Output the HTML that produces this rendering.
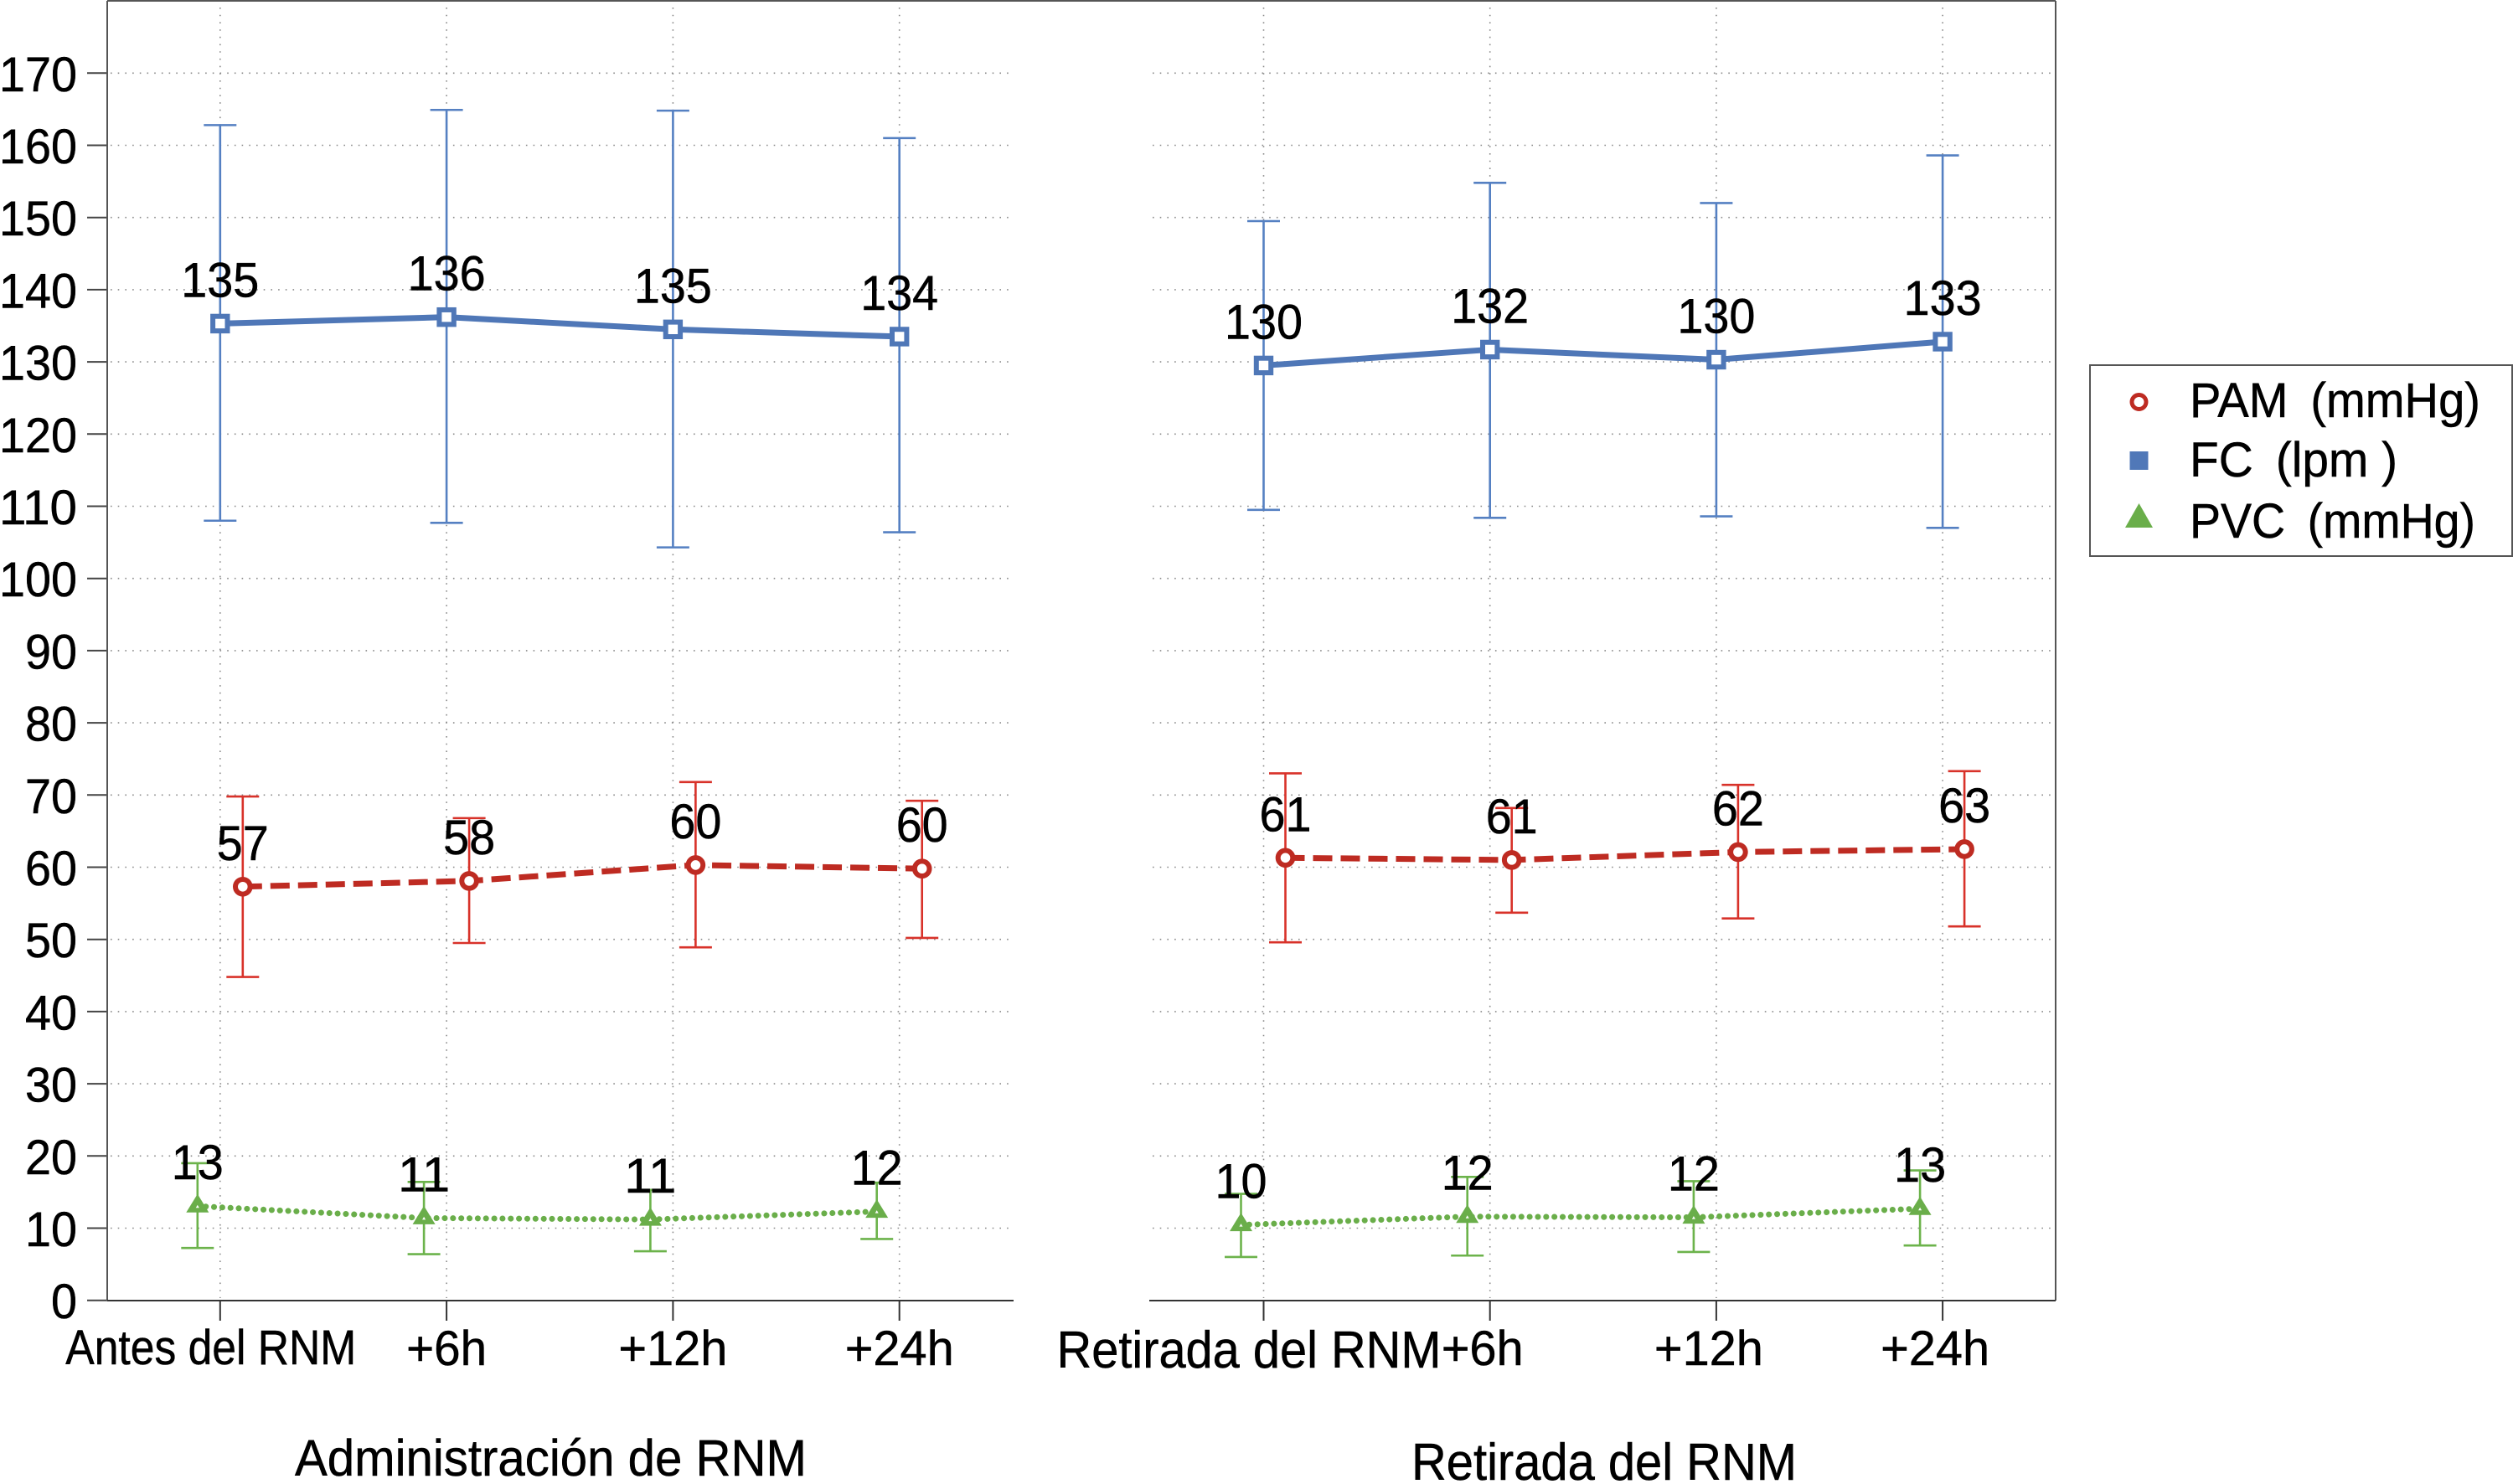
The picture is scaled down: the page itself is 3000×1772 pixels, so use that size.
<!DOCTYPE html>
<html lang="es">
<head>
<meta charset="utf-8">
<title>Evolución de PAM, FC y PVC</title>
<style>
html,body{margin:0;padding:0;background:#fff;width:3000px;height:1772px;overflow:hidden}
svg{display:block;font-family:"Liberation Sans",Arial,sans-serif;fill:#000}
text{stroke:#000;stroke-width:0.5px}
</style>
</head>
<body>
<svg id="chart" xmlns="http://www.w3.org/2000/svg" width="3000" height="1772" viewBox="0 0 3000 1772">
  <rect x="0" y="0" width="3000" height="1772" fill="#fff"/>
  <g id="grid"></g>
  <g id="frame"></g>
  <g id="marks"></g>
  <g id="labels"></g>
  <text x="352" y="1762" font-size="61" textLength="611" lengthAdjust="spacingAndGlyphs">Administración de RNM</text>
  <text x="1685" y="1767" font-size="62" textLength="460" lengthAdjust="spacingAndGlyphs">Retirada del RNM</text>
  <g>
    <rect x="2495" y="436" width="504" height="228" fill="#fff" stroke="#555" stroke-width="2"/>
    <circle cx="2553.5" cy="480" r="8.5" fill="#fff" stroke="#be2b22" stroke-width="5"/>
    <rect x="2542.5" y="539" width="22" height="22" fill="#5078b8"/>
    <polygon points="2553.5,601 2570,630 2537,630" fill="#6aae4a"/>
    <text x="2614" y="498" font-size="58" textLength="347" lengthAdjust="spacingAndGlyphs">PAM&#160;&#8201;(mmHg)</text>
    <text x="2614" y="569" font-size="58" textLength="248" lengthAdjust="spacingAndGlyphs">FC&#160;&#8201;(lpm&#160;)</text>
    <text x="2614" y="642" font-size="58" textLength="341" lengthAdjust="spacingAndGlyphs">PVC&#160;&#8201;(mmHg)</text>
  </g>
</svg>
<script>
const yTickValues = [0,10,20,30,40,50,60,70,80,90,100,110,120,130,140,150,160,170];

const categoriesAdmin = ['Antes del RNM','+6h','+12h','+24h'];
const categoriesRetirada = ['Retirada del RNM','+6h','+12h','+24h'];

const fcMeanAdmin = [135.3,136.2,134.5,133.5];
const fcHighAdmin = [162.8,164.9,164.8,161.0];
const fcLowAdmin = [108.0,107.7,104.3,106.4];
const fcLabelsAdmin = ['135','136','135','134'];
const fcMeanRetirada = [129.5,131.7,130.3,132.8];
const fcHighRetirada = [149.5,154.8,152.0,158.6];
const fcLowRetirada = [109.5,108.4,108.6,107.0];
const fcLabelsRetirada = ['130','132','130','133'];

const pamMeanAdmin = [57.3,58.1,60.3,59.8];
const pamHighAdmin = [69.8,66.8,71.8,69.2];
const pamLowAdmin = [44.8,49.5,48.9,50.2];
const pamLabelsAdmin = ['57','58','60','60'];
const pamMeanRetirada = [61.3,61.0,62.1,62.5];
const pamHighRetirada = [73.0,68.2,71.4,73.3];
const pamLowRetirada = [49.6,53.7,52.9,51.8];
const pamLabelsRetirada = ['61','61','62','63'];

const pvcMeanAdmin = [13.05,11.4,11.2,12.3];
const pvcHighAdmin = [19.0,16.4,15.3,16.3];
const pvcLowAdmin = [7.25,6.4,6.8,8.5];
const pvcLabelsAdmin = ['13','11','11','12'];
const pvcMeanRetirada = [10.45,11.6,11.5,12.7];
const pvcHighRetirada = [14.75,17.1,16.5,18.0];
const pvcLowRetirada = [6.0,6.2,6.7,7.6];
const pvcLabelsRetirada = ['10','12','12','13'];

const NS = 'http://www.w3.org/2000/svg';
const y0 = 1552.7, pxPerUnit = 8.62;
function yScale(v){ return y0 - v * pxPerUnit; }
const xAdminStart = 262.8, xRetiradaStart = 1508.5, xStepAdmin = 270.3, xStepRetirada = 270.2;
function xAdmin(i){ return xAdminStart + i * xStepAdmin; }
function xRetirada(i){ return xRetiradaStart + i * xStepRetirada; }

function mk(parent, tag, attrs){
  const el = document.createElementNS(NS, tag);
  for (const k in attrs) el.setAttribute(k, attrs[k]);
  parent.appendChild(el);
  return el;
}
function numberWidth(str){ return str.length * 31; }
const gGrid = document.getElementById('grid');
const gFrame = document.getElementById('frame');
const gMarks = document.getElementById('marks');
const gLabels = document.getElementById('labels');

/* horizontal gridlines and y ticks */
yTickValues.forEach(function(v){
  const y = yScale(v);
  if (v > 0) {
    [[132,1208],[1376,2452]].forEach(function(r){
      const g = mk(gGrid,'line',{x1:r[0],x2:r[1],y1:y,y2:y,stroke:'#8a8a8a','stroke-width':1.6,'stroke-dasharray':'1.6 7.1'});
      
      
    });
  }
  const t = mk(gFrame,'line',{x1:104,x2:128,y1:y,y2:y,stroke:'#444','stroke-width':2});
  
  
  const lab = mk(gLabels,'text',{x:92,y:y+21.5,'font-size':58,'text-anchor':'end',textLength:numberWidth(String(v)),lengthAdjust:'spacingAndGlyphs'});
  lab.textContent = String(v);
  
  
});

/* vertical gridlines, x ticks, x labels */
function drawXAxis(cats, xf, key, fontSize, baseline, firstLen, firstShift, restShift, restLens){
  cats.forEach(function(c,i){
    const x = xf(i);
    const g = mk(gGrid,'line',{x1:x,x2:x,y1:9,y2:1550,stroke:'#8a8a8a','stroke-width':1.6,'stroke-dasharray':'1.6 7.1'});
    
    
    const t = mk(gFrame,'line',{x1:x,x2:x,y1:1553,y2:1577,stroke:'#333','stroke-width':2});
    
    
    const attrs = {x:x+(i===0?firstShift:restShift),y:(i===0?baseline:1630),'font-size':(i===0?fontSize:58),'text-anchor':'middle',lengthAdjust:'spacingAndGlyphs',textLength:(i===0?firstLen:restLens[i-1])};
    const lab = mk(gLabels,'text',attrs);
    lab.textContent = c;
    
    
  });
}
drawXAxis(categoriesAdmin, xAdmin, 'admin', 58, 1629, 347, -11, 0, [96,130,130]);
drawXAxis(categoriesRetirada, xRetirada, 'retirada', 62, 1633, 459, -17.5, -9, [98,130,130]);

/* frame */
[[128,1,2454,1,'#555','frame-top'],[128,1,128,1553,'#555','frame-left'],[2454,1,2454,1553,'#555','frame-right'],
 [128,1553,1210,1553,'#333','x-axis-admin'],[1372,1553,2454,1553,'#333','x-axis-retirada']].forEach(function(s){
  const l = mk(gFrame,'line',{x1:s[0],y1:s[1],x2:s[2],y2:s[3],stroke:s[4],'stroke-width':2});
  
  
});

/* series */
function drawSeries(name, panel, xf, offset, mean, high, low, labels, style){
  mean.forEach(function(m,i){
    const x = xf(i) + offset;
    const e = mk(gMarks,'line',{x1:x,x2:x,y1:yScale(high[i]),y2:yScale(low[i]),stroke:style.bar,'stroke-width':2.6});
    
    
    const c1 = mk(gMarks,'line',{x1:x-19.5,x2:x+19.5,y1:yScale(high[i]),y2:yScale(high[i]),stroke:style.bar,'stroke-width':2.6});
    
    
    const c2 = mk(gMarks,'line',{x1:x-19.5,x2:x+19.5,y1:yScale(low[i]),y2:yScale(low[i]),stroke:style.bar,'stroke-width':2.6});
    
    
  });
  const pts = mean.map(function(m,i){ return (xf(i)+offset) + ',' + yScale(m); }).join(' ');
  const lineAttrs = {points:pts,fill:'none',stroke:style.line,'stroke-width':style.width};
  if (style.dash) lineAttrs['stroke-dasharray'] = style.dash;
  if (style.cap) lineAttrs['stroke-linecap'] = style.cap;
  const line = mk(gMarks,'polyline',lineAttrs);
  
  
  mean.forEach(function(m,i){
    const x = xf(i) + offset, y = yScale(m);
    let mark;
    if (style.shape === 'square') {
      mark = mk(gMarks,'rect',{x:x-8.7,y:y-8.7,width:17.4,height:17.4,fill:'#fff',stroke:style.line,'stroke-width':6});
    } else if (style.shape === 'circle') {
      mark = mk(gMarks,'circle',{cx:x,cy:y,r:8.8,fill:'#fff',stroke:style.line,'stroke-width':6});
    } else {
      mark = mk(gMarks,'polygon',{points:(x)+','+(y-14.5)+' '+(x+13.5)+','+(y+7.5)+' '+(x-13.5)+','+(y+7.5),fill:style.line});
      const inner = mk(gMarks,'polygon',{points:(x)+','+(y-1.5)+' '+(x+2)+','+(y+2)+' '+(x-2)+','+(y+2),fill:'#fff'});
      
      
    }
    
    
    const t = mk(gLabels,'text',{x:x,y:y-32,'font-size':58,'text-anchor':'middle',textLength:numberWidth(labels[i]),lengthAdjust:'spacingAndGlyphs'});
    t.textContent = labels[i];
    
    
  });
}
const fcStyle = {line:'#4f77b7',bar:'#5580c2',width:7,shape:'square'};
const pamStyle = {line:'#be2b22',bar:'#d8322a',width:7,dash:'23 10',shape:'circle'};
const pvcStyle = {line:'#6aae4a',bar:'#6cb34b',width:7,dash:'0.1 9.75',cap:'round',shape:'triangle'};

drawSeries('pvc','admin',xAdmin,-27,pvcMeanAdmin,pvcHighAdmin,pvcLowAdmin,pvcLabelsAdmin,pvcStyle);
drawSeries('pvc','retirada',xRetirada,-27,pvcMeanRetirada,pvcHighRetirada,pvcLowRetirada,pvcLabelsRetirada,pvcStyle);
drawSeries('pam','admin',xAdmin,27,pamMeanAdmin,pamHighAdmin,pamLowAdmin,pamLabelsAdmin,pamStyle);
drawSeries('pam','retirada',xRetirada,26,pamMeanRetirada,pamHighRetirada,pamLowRetirada,pamLabelsRetirada,pamStyle);
drawSeries('fc','admin',xAdmin,0,fcMeanAdmin,fcHighAdmin,fcLowAdmin,fcLabelsAdmin,fcStyle);
drawSeries('fc','retirada',xRetirada,0,fcMeanRetirada,fcHighRetirada,fcLowRetirada,fcLabelsRetirada,fcStyle);
</script>
</body>
</html>
